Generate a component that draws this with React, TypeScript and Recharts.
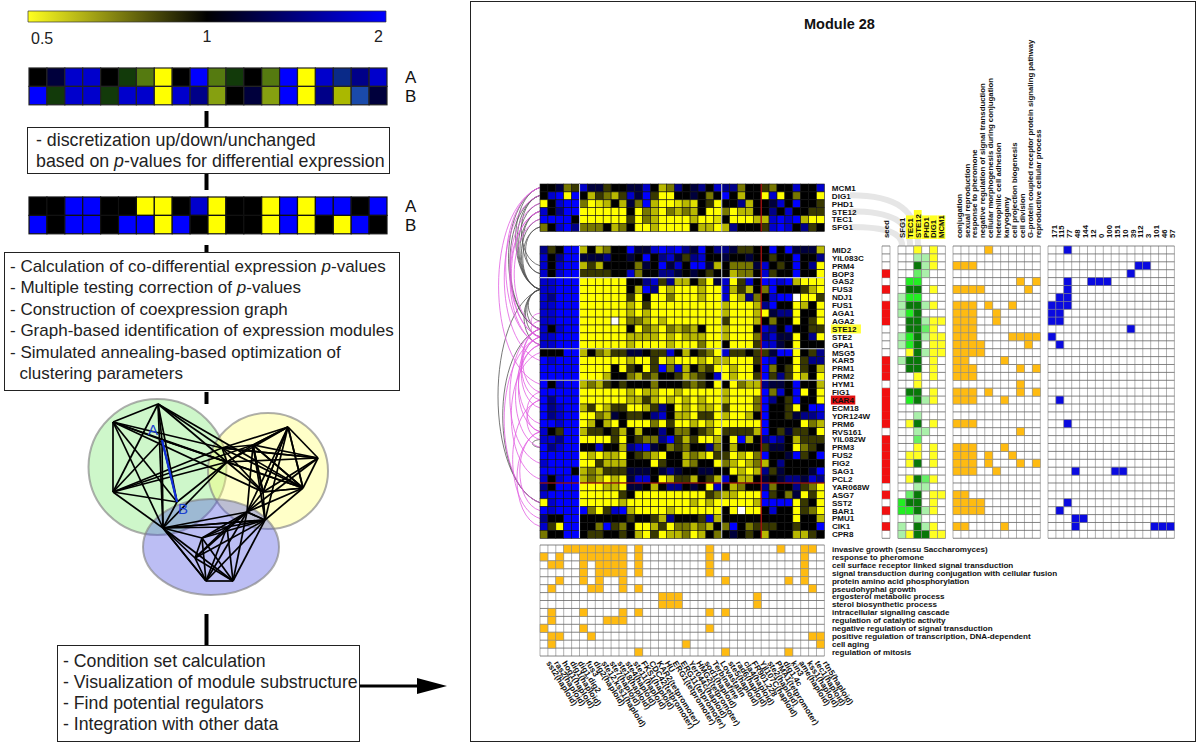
import React from 'react';
import { ScatterChart, Scatter, XAxis, YAxis, CartesianGrid, ReferenceLine, BarChart, Bar } from 'recharts';

const FONT = "'Liberation Sans', Arial, sans-serif";

// ---------- palettes
const HEAT_COLORS: Record<string, string> = {
  B: '#0000ff', b: '#0000cc', n: '#000088', k: '#00003c', '0': '#000000', '1': '#383800', '2': '#777700', '3': '#b8b800', '4': '#e0e000',
  Y: '#ffff00', W: '#ffffff', g: '#123a0a', h: '#557a10', i: '#86a010', j: '#aab800', c: '#1a4aaa', m: '#0a2a88',
};
const REG_COLORS: Record<string, string> = { Y: '#ffff22', G: '#22ee22', g: '#aaf0aa', D: '#087808', M: '#66ee66' };
const ORANGE = { '#': '#ffbb11' };
const BLUE = { '#': '#0a0ae0' };
const RED = { '#': '#f01010' };

// ---------- left strips
const STRIP_LABELS = ['A', 'B'];
const stripRaw = ['0kbb0ghY0Bhg0hBYbmnb', 'Bgbbgbb' + 'Ybni0kiBYnjck'];
const stripDiscrete = ['00BB00YY0bY00YBYBB0B', 'B0BB0BBYB0Y00YBY0YB0'];

// ---------- module 28 heat map
const topGenes = ['MCM1', 'DIG1', 'PHD1', 'STE12', 'TEC1', 'SFG1'];
const topRows = [
  '00k21|bkk100kkb032n0kn0b|nn200|1200b00b',
  '0bBYB|031231bkB1YY00k020|B0300|YbY0200Y',
  'Y0bBB|2Y4303k2B3YY43401Y|00n30|0kb0B001',
  'b0nBB|YYYYYY0Y23Y23230YY|2Y330|0n0b0011',
  'BBBB0|YYYYYY1Y23YYYY3YY4|0YYY3|3bBbB3YY',
  '20bBn|2220320YY3YYYY033Y|3n000|1bBb0n10',
];
const genes = ['MID2', 'YIL083C', 'PRM4', 'BOP3', 'GAS2', 'FUS3', 'NDJ1', 'FUS1', 'AGA1', 'AGA2', 'STE12', 'STE2', 'GPA1', 'MSG5', 'KAR5', 'PRM1', 'PRM2', 'HYM1', 'FIG1', 'KAR4', 'ECM18', 'YDR124W', 'PRM6', 'RVS161', 'YIL082W', 'PRM3', 'FUS2', 'FIG2', 'SAG1', 'PCL2', 'YAR068W', 'ASG7', 'SST2', 'BAR1', 'PMU1', 'CIK1', 'CPR8'];
const mainRows = [
  'n10BB|303200BkkbBbBnkB0n|nk110|0B0Bkkk3',
  'b0nBB|kkkn00k0B0nbk1nb00|k00k0|0100B00n',
  'b0bBB|31300002k0Bkb0BBk3|0222k|b010B0nY',
  'b0bBB|111100b200nnk0k010|03220|b100B00Y',
  'bbBBB|YYYYYY00nb1n3302Yk|bY1b0|BBbB3YYY',
  'bbBBB|YYYYYY03BnY3YYY3YY|b3130|2B00013Y',
  'bnBBB|YYYYYY1Y0YY2YYY3YY|bY3n2|0bBBWYY1',
  'bbBBB|YYYYYY3Y1YYYYYYYYY|3YYY3|nB00Y30Y',
  'bbBBB|YYYYYY3Y3YYYYYYYYY|3YYY3|YknnY00Y',
  'bbBBB|YYYYWY223Y3YYYYYYY|1YYY3|0200Y01Y',
  'b0bBB|YYYYYY0Y23Y23230YY|3YYY0|bn0b0011',
  'bbBBB|YYYYYY3333Y3Y333YY|3YYY2|nbkkY0nY',
  'bbBBB|YYYYYY3YYYY3YYY2YY|0YYY1|bbk0Y000',
  '000BB|302311kk011b03012Y|b1101|1kBBY01n',
  'BbBBB|YYYYYY3YY1Y3YYY3Y3|3YYY1|Bb00Y1nn',
  'BBBBB|YYYY0Y10Y1B2b3021Y|Y3YY0|B201Y103',
  'BBBBB|YYY30023120013210b|Y3YY1|B1n1Y30Y',
  'B0bBB|32310100020001210Y|0Y233|nkk0B003',
  'BBBBB|YYYYYY3Y33YY3YYYYY|3YYYY|B2b0BY0Y',
  'BnBBB|YYYYYY3313Y3Y3Y3YY|3YYY2|Bn01B00Y',
  'BnbBB|31Y311YY31n0Y3Y33Y|1YYY2|B001Y0BB',
  'BnbBB|YY23k0110nb033Y11Y|3YY30|B001knnb',
  'BBbBB|Y303Y0YYY2Y1YY3Y3Y|YYYYY|B0000Y23',
  'b01BB|3110130300n022012Y|11113|B01k110Y',
  'bbnBB|YYYY1Y0122nB131YY3|0YB30|nbn03111',
  'BnbBB|00b003nbBk021200n2|03000|1kk0Y210',
  'BBBBB|Y3Y33Y0123Y00323Y1|1Y3Y2|B00kB10B',
  'bBBBB|YY1333000Y1003200Y|23Y32|30n00000',
  'BBBB0|323111kkk0knk00kk0|0Y3Y3|n1k000kB',
  'b0bBB|323Y3Ykbb0Y3113013|b0330|k0knnkbn',
  'n0BBB|YYY33Ykk030nn0k0Yb|03200|n200n12Y',
  'bBBBB|YYYYY10YYYYYYYYY12|33YYY|B102kY1Y',
  'YbBBB|YYYYY3YYYYYYYY3Y3Y|YYYY3|BBBBY10Y',
  'BbBBB|B2Y1bB3YYYY3YYYYYY|0YWYY|0b00Y12Y',
  'n00BB|00000010013n0001b3|00000|0000Y003',
  'b1YBB|002B120YY31Y223230|2B021|1100100B',
  '200BB|01100103Y1Y332Y302|0k010|30003310',
];

// ---------- annotation panels
const seedGenes = ['BOP3', 'FUS3', 'FUS1', 'AGA1', 'AGA2', 'KAR5', 'PRM1', 'PRM2', 'FIG1', 'KAR4', 'ECM18', 'YDR124W', 'PRM6', 'YIL082W', 'PRM3', 'FUS2', 'FIG2', 'SAG1', 'PCL2', 'ASG7', 'BAR1', 'CIK1'];
const regulators = ['SFG1', 'TEC1', 'STE12', 'PHD1', 'DIG1', 'MCM1'];
const regulatorRows = ['..Y.Y.', '..ggY.', '..DgY.', '..Mg..', '.GG...', '.DD.Y.', 'gGG...', 'gDDgY.', 'gGD...', '.DDgYY', '.DDMY.', 'gGDgYY', 'gGD.YY', '.YDgYY', 'gDD.Y.', '.DD.Y.', '..Y.Y.', '..Y...', '.DD.Y.', '.GDgY.', '......', '..g...', '.YD.Y.', '..gg..', '..M...', '..Y.Y.', '.YY.Y.', '.YD.Y.', '......', '.YDMY.', '..gg..', '.MD.YY', 'GDD.Y.', 'GGDgY.', '..g...', 'g.DgY.', 'gYDDYY'];
const goTerms = ['conjugation', 'sexual reproduction', 'response to pheromone', 'negative regulation of signal transduction', 'cellular morphogenesis during conjugation', 'heterophilic cell adhesion', 'karyogamy', 'cell projection biogenesis', 'cell division', 'G-protein coupled receptor protein signaling pathway', 'reproductive cellular process'];
const goRows = ['....#......', '...........', '###........', '...........', '........#.#', '####.....#.', '...........', '###.#..#...', '###..#.....', '###..#.....', '###........', '###....####', '####.....#.', '####.......', '##....#....', '###.....#.#', '###........', '........#..', '###.#...#.#', '###...#....', '...........', '...........', '###........', '........#..', '...........', '###...#....', '###.#..#...', '###.#...#.#', '###..#.....', '...........', '...........', '##.........', '####.......', '####.......', '...........', '##....#....', '...........'];
const clusterIds = ['171', '115', '77', '48', '144', '12', '0', '100', '151', '10', '39', '112', '3', '101', '46', '57'];
const clusterHits: Record<string, number[]> = { MID2: [2], PRM4: [11, 12], BOP3: [10], GAS2: [2, 5, 6, 7], FUS3: [2], NDJ1: [1, 2], FUS1: [0, 1, 2], AGA1: [0, 1], AGA2: [0, 1], STE12: [10], STE2: [0], GPA1: [1], KAR4: [1], PRM6: [2], SAG1: [3, 8, 9], SST2: [2], BAR1: [1], PMU1: [3, 4], CIK1: [3, 13, 14, 15] };
const bottomTerms = ['invasive growth (sensu Saccharomyces)', 'response to pheromone', 'cell surface receptor linked signal transduction', 'signal transduction during conjugation with cellular fusion', 'protein amino acid phosphorylation', 'pseudohyphal growth', 'ergosterol metabolic process', 'sterol biosynthetic process', 'intracellular signaling cascade', 'regulation of catalytic activity', 'negative regulation of signal transduction', 'positive regulation of transcription, DNA-dependent', 'cell aging', 'regulation of mitosis'];
const bottomHits = [
  [3, 4, 5, 6, 7, 8, 9, 10, 12, 21, 30, 33, 34],
  [0, 2, 5, 6, 7, 8, 9, 10, 12, 21, 23, 33],
  [1, 2, 5, 7, 8, 9, 10, 12, 21, 33],
  [5, 7, 8, 9, 10, 12, 21, 33],
  [2, 5, 7, 10, 23, 31, 33],
  [1, 6, 7, 10, 12, 34],
  [15, 16, 17, 27],
  [15, 16, 17, 27],
  [1, 5, 10, 12, 21, 23],
  [1, 8, 9, 10],
  [0, 5, 21],
  [1, 2, 6, 34, 35],
  [1, 18, 35],
  [12, 23, 31],
];
const conditions = ['sst2(haploid)', 'ras2(haploid)', 'hog1(haploid)', 'dig1(haploid)', 'dig1,dig2', 'fus3', 'dig2(haploid)', 'ste12,kss1(haploid)', 'ste7(haploid)', 'ste18(haploid)', 'ste4(haploid)', 'ste11(haploid)', 'FKS1(haploid)', 'CDC42(tetpromoter)', 'KAR2(tetpromoter)', 'HU', 'ERG1(tetpromoter)', 'ERG11(tetpromoter)', 'Yer044c(haploid)', 'HMG2(tetpromoter)', 'sod1(haploid)', 'Terbinafine', 'Lovastatin', 'ste5(haploid)', 'rad6(haploid)', 'cla4(haploid)', 'FR901,228', 'Yjl107C(haploid)', 'ste2(haploid)', 'PMA1(tetpromoter)', 'dig1,4c', 'kin3', 'ame(haploid)', 'kss1(haploid)', 'tec1(haploid)', 'rtn5(haploid)'];

// ---------- coexpression graph
const graphNodes: Record<string, [number, number]> = {
  g1: [158, 404], g2: [113, 422], A: [162, 440], g4: [113, 492], B: [177, 502], g6: [163, 528], g7: [227, 462], g8: [222, 448],
  y1: [288, 427], y2: [318, 458], y3: [253, 445], y4: [303, 488], y5: [263, 492], y6: [247, 512], y7: [265, 520],
  b1: [227, 527], b3: [202, 538], b4: [195, 558], b5: [206, 581], b6: [233, 581],
};
const cliques = [
  ['g1', 'g2', 'A', 'g4', 'B', 'g6', 'g7'],
  ['g8', 'y3', 'y1', 'y2', 'y4', 'y5', 'g7'],
  ['y3', 'y1', 'y4', 'y6', 'y5'],
  ['b1', 'y6', 'y7', 'b3', 'b4', 'b5', 'b6', 'g6'],
];
const extraEdges = [['g1', 'g8'], ['g2', 'g8'], ['g4', 'g8'], ['g2', 'y5'], ['A', 'y4'], ['g1', 'y4'], ['g4', 'y3'], ['g8', 'y2'], ['y6', 'y7'], ['y7', 'y4'], ['y7', 'y5'], ['y7', 'y3'], ['y6', 'y2'], ['y7', 'y1'], ['g6', 'b5'], ['g6', 'y7']];
const blobs = [
  { x: 157.5, y: 467, rx: 69, ry: 68, fill: 'rgba(125,235,115,0.38)' },
  { x: 268, y: 471, rx: 60, ry: 58, fill: 'rgba(255,255,110,0.38)' },
  { x: 211, y: 547, rx: 68, ry: 48, fill: 'rgba(80,85,225,0.38)' },
];

// ---------- arcs left of the heat map (gene pairs; t: = upper block)
const greyArcs = [['t:MCM1', 'FUS3'], ['t:DIG1', 'FUS3'], ['t:PHD1', 'FUS3'], ['t:STE12', 'FUS3'], ['t:TEC1', 'FUS3'], ['t:SFG1', 'FUS3'], ['t:DIG1', 'PRM4'], ['t:STE12', 'BOP3'], ['t:SFG1', 'BOP3'], ['FUS3', 'AGA2'], ['FUS3', 'STE12'], ['FUS3', 'STE2'], ['FUS3', 'GPA1'], ['FUS3', 'SST2'], ['STE12', 'SST2'], ['YIL082W', 'PRM3'], ['t:MCM1', 'STE12'], ['t:DIG1', 'STE12']];
const pinkArcs = [['t:MCM1', 'GPA1'], ['t:MCM1', 'HYM1'], ['t:TEC1', 'STE12'], ['t:PHD1', 'STE2'], ['t:STE12', 'STE2'], ['t:STE12', 'GPA1'], ['t:DIG1', 'KAR5'], ['STE12', 'FIG1'], ['STE12', 'KAR4'], ['STE2', 'ECM18'], ['STE2', 'PRM6'], ['GPA1', 'RVS161'], ['GPA1', 'PRM3'], ['AGA1', 'STE12'], ['AGA2', 'STE2'], ['MSG5', 'PCL2'], ['FIG1', 'RVS161'], ['KAR4', 'YIL082W'], ['RVS161', 'BAR1'], ['RVS161', 'CIK1'], ['STE12', 'FIG2'], ['STE2', 'SST2'], ['KAR4', 'PMU1']];
const bandRows = [['DIG1', 'STE12'], ['STE12', 'TEC1'], ['SFG1', 'SFG1']];

// ---------- text boxes
const topBoxLines = [['- discretization up/down/unchanged'], ['based on ', 'p', '-values for differential expression']];
const midBoxLines = [['- Calculation of co-differential expression ', 'p', '-values'], ['- Multiple testing correction of ', 'p', '-values'], ['- Construction of coexpression graph'], ['- Graph-based identification of expression modules'], ['- Simulated annealing-based optimization of'], ['  clustering parameters']];
const lowBoxLines = [['- Condition set calculation'], ['- Visualization of module substructure'], ['- Find potential regulators'], ['- Integration with other data']];

// ---------- geometry constants
const CELL = 7.9;
const HEAT_LEFT = 540;
const TOP_TOP = 183.5;
const MAIN_TOP = 246;

const clean = (s: string) => s.replace(/\|/g, '');
const arcY = (name: string) => name.startsWith('t:')
  ? TOP_TOP + CELL * (topGenes.indexOf(name.slice(2)) + 0.5)
  : MAIN_TOP + CELL * (genes.indexOf(name) + 0.5);

const RowTick = (highlight: Record<string, string>, labels: string[], fs = 8.1, dx = 7.5, weight = 'bold') => (p: any) => {
  const label = labels[Math.floor(p.payload.value)];
  const bg = highlight[label];
  return (
    <g>
      {bg && <rect x={p.x + dx - 1} y={p.y - 4.5} width={label.length * 5.6 + 2} height={9} fill={bg} />}
      <text x={p.x + dx} y={p.y + fs * 0.36} fontSize={fs} fontWeight={weight} fontFamily={FONT} fill="#111">{label}</text>
    </g>
  );
};
const UpTick = (labels: string[], highlight: string[] = [], shift = 4.6) => (p: any) => {
  const label = labels[Math.floor(p.payload.value)];
  const y = p.y - 8;
  return (
    <g>
      {highlight.includes(label) && <rect x={p.x - 3.9} y={y - label.length * 5.4 - 1} width={7.8} height={label.length * 5.4 + 2} fill="#ffff22" />}
      <text x={p.x + shift} y={y} transform={`rotate(-90 ${p.x + shift} ${y})`} fontSize={7.8} fontWeight="bold" fontFamily={FONT} fill="#111">{label}</text>
    </g>
  );
};
const SlantTick = (labels: string[]) => (p: any) => {
  const label = labels[Math.floor(p.payload.value)];
  const x = p.x + 2;
  const y = p.y + 7;
  return <text x={x} y={y} transform={`rotate(58 ${x} ${y})`} fontSize={8.2} fontWeight="bold" fontFamily={FONT} fill="#111">{label}</text>;
};
const half = (n: number) => Array.from({ length: n }, (_, i) => i + 0.5);
const whole = (n: number) => Array.from({ length: n + 1 }, (_, i) => i);

function Heat(props: any) {
  const { left, top, cellW, cellH = cellW, rows, palette, cellStroke = '#111', cellStrokeW = 0.6, rowTick, rowLabelW = 0, colTick, colLabelH = 0, colSide = 'top', grid = false, vLines = [], hLines = [] } = props;
  const nRows = rows.length;
  const nCols = rows[0].length;
  const points = rows.flatMap((r: string, ri: number) => r.split('').flatMap((c: string, ci: number) => (palette[c] ? [{ col: ci + 0.5, row: ri + 0.5, c }] : [])));
  const shape = (p: any) => (
    <rect x={p.cx - cellW / 2} y={p.cy - cellH / 2} width={cellW} height={cellH} fill={palette[p.payload.c]} stroke={cellStroke} strokeWidth={cellStrokeW} />
  );
  const w = nCols * cellW + rowLabelW;
  const h = nRows * cellH + colLabelH;
  const plotW = nCols * cellW;
  const plotH = nRows * cellH;
  const vShape = (p: any) => <line x1={p.cx} x2={p.cx} y1={p.cy - plotH / 2} y2={p.cy + plotH / 2} stroke={p.payload.color} strokeWidth={1.1} />;
  const hShape = (p: any) => <line x1={p.cx - plotW / 2} x2={p.cx + plotW / 2} y1={p.cy} y2={p.cy} stroke={p.payload.color} strokeWidth={1.1} />;
  return (
    <div style={{ position: 'absolute', left, top: top - (colSide === 'top' ? colLabelH : 0) }}>
      <ScatterChart width={w} height={h} margin={{ top: 0, right: 0, bottom: 0, left: 0 }}>
        {grid && <CartesianGrid horizontal={false} vertical verticalValues={whole(nCols)} stroke="#a8a8a8" strokeWidth={0.9} />}
        {grid && <CartesianGrid vertical={false} horizontal horizontalValues={whole(nRows)} stroke="#666" strokeWidth={0.8} />}
        <XAxis type="number" dataKey="col" domain={[0, nCols]} ticks={half(nCols)} interval={0} hide={!colTick} orientation={colSide} height={colLabelH} tick={colTick} tickLine={false} axisLine={false} tickSize={0} tickMargin={0} />
        <YAxis type="number" dataKey="row" domain={[0, nRows]} reversed ticks={half(nRows)} interval={0} hide={!rowTick} orientation="right" width={rowLabelW} tick={rowTick} tickLine={false} axisLine={false} tickSize={0} tickMargin={0} />
        <Scatter data={points} shape={shape} isAnimationActive={false} />
        {hLines.length > 0 && <Scatter data={hLines.map((l: any) => ({ col: nCols / 2, row: l.at, color: l.color }))} shape={hShape} isAnimationActive={false} />}
        {vLines.length > 0 && <Scatter data={vLines.map((l: any) => ({ col: l.at, row: nRows / 2, color: l.color }))} shape={vShape} isAnimationActive={false} />}
      </ScatterChart>
    </div>
  );
}

const GREYLINE = '#c4c8d0';
const REDLINE = '#c81010';
const clusterRows = genes.map((g) => clusterIds.map((_, i) => ((clusterHits[g] || []).includes(i) ? '#' : '.')).join(''));
const seedRows = genes.map((g) => (seedGenes.includes(g) ? '#' : '.'));
const bottomRows = bottomHits.map((cols) => conditions.map((_, i) => (cols.includes(i) ? '#' : '.')).join(''));

function ColorBar() {
  const data = [{ name: 'ratio', range: [-1, 1] }];
  const tick = (p: any) => {
    const v = p.payload.value;
    const label = v === -1 ? '0.5' : v === 0 ? '1' : '2';
    const x = v === -1 ? p.x + 3 : v === 1 ? p.x - 3 : p.x;
    return <text x={x} y={v === -1 ? 32.5 : 30.5} textAnchor={v === -1 ? 'start' : v === 1 ? 'end' : 'middle'} fontSize={16} fontFamily={FONT} fill="#222">{label}</text>;
  };
  return (
    <div style={{ position: 'absolute', left: 28, top: 11 }}>
      <BarChart width={358} height={50} data={data} layout="vertical" margin={{ top: 0, right: 0, bottom: 0, left: 0 }} barCategoryGap={0}>
        <defs>
          <linearGradient id="ratioGrad" x1="0" x2="1" y1="0" y2="0">
            <stop offset="0" stopColor="#ffff20" />
            <stop offset="0.5" stopColor="#000000" />
            <stop offset="1" stopColor="#0000ff" />
          </linearGradient>
        </defs>
        <XAxis type="number" domain={[-1, 1]} ticks={[-1, 0, 1]} interval={0} tick={tick} height={39} tickLine={false} axisLine={false} />
        <YAxis type="category" dataKey="name" hide />
        <Bar dataKey="range" fill="url(#ratioGrad)" stroke="#333" strokeWidth={0.7} isAnimationActive={false} />
      </BarChart>
    </div>
  );
}

function BackLayer() {
  const ellipse = (p: any) => <ellipse cx={p.cx} cy={p.cy} rx={p.payload.rx} ry={p.payload.ry} fill={p.payload.fill} stroke="rgba(130,130,130,0.65)" strokeWidth={2} />;
  const arcData = [
    ...greyArcs.map((a) => ({ a, color: '#555555' })),
    ...pinkArcs.map((a) => ({ a, color: '#e25ee2' })),
  ].map(({ a, color }) => ({ x: HEAT_LEFT, y: arcY(a[0]), span: arcY(a[1]) - arcY(a[0]), color }));
  const arcShape = (p: any) => {
    const s = p.payload.span;
    const bow = Math.min(s * 0.24 + 8, 56);
    return <path d={`M${p.cx} ${p.cy} C${p.cx - bow} ${p.cy + s * 0.1} ${p.cx - bow} ${p.cy + s * 0.9} ${p.cx} ${p.cy + s}`} fill="none" stroke={p.payload.color} strokeWidth={0.8} />;
  };
  const bandData = bandRows.map(([g, col]) => ({ x: 850, y: TOP_TOP + CELL * (topGenes.indexOf(g) + 0.5), toX: 898.3 + CELL * (regulators.indexOf(col) + 0.5), toY: 246 }));
  const bandShape = (p: any) => {
    const dx = p.payload.toX - p.payload.x;
    const dy = p.payload.toY - p.payload.y;
    return <path d={`M${p.cx} ${p.cy} C${p.cx + dx * 0.7} ${p.cy} ${p.cx + dx} ${p.cy + dy * 0.3} ${p.cx + dx} ${p.cy + dy}`} fill="none" stroke="#e6e6e6" strokeWidth={6} />;
  };
  return (
    <div style={{ position: 'absolute', left: 0, top: 0 }}>
      <ScatterChart width={1200} height={744} margin={{ top: 0, right: 0, bottom: 0, left: 0 }}>
        <XAxis type="number" dataKey="x" domain={[0, 1200]} hide />
        <YAxis type="number" dataKey="y" domain={[0, 744]} reversed hide />
        <Scatter data={blobs} shape={ellipse} isAnimationActive={false} />
        <Scatter data={bandData} shape={bandShape} isAnimationActive={false} />
        <Scatter data={arcData} shape={arcShape} isAnimationActive={false} />
      </ScatterChart>
    </div>
  );
}

function LineLayer() {
  const edges = [
    ...cliques.flatMap((c) => c.flatMap((a, i) => c.slice(i + 1).map((b) => [a, b]))),
    ...extraEdges,
  ];
  const seg = (a: [number, number], b: [number, number]) => [{ x: a[0], y: a[1] }, { x: b[0], y: b[1] }] as any;
  const arrowShape = (p: any) => <path d={`M${p.cx} ${p.cy - 8} L${p.cx + 30} ${p.cy} L${p.cx} ${p.cy + 8} Z`} fill="#000" />;
  return (
    <div style={{ position: 'absolute', left: 0, top: 0 }}>
      <ScatterChart width={1200} height={744} margin={{ top: 0, right: 0, bottom: 0, left: 0 }}>
        <XAxis type="number" dataKey="x" domain={[0, 1200]} hide />
        <YAxis type="number" dataKey="y" domain={[0, 744]} reversed hide />
        {edges.map(([a, b], i) => <ReferenceLine key={i} segment={seg(graphNodes[a], graphNodes[b])} stroke="#000" strokeWidth={1.7} />)}
        <ReferenceLine segment={seg(graphNodes.A, graphNodes.B)} stroke="#1030dd" strokeWidth={2.2} />
        <ReferenceLine segment={seg([206.5, 111], [206.5, 127])} stroke="#000" strokeWidth={4} />
        <ReferenceLine segment={seg([206.5, 174], [206.5, 190])} stroke="#000" strokeWidth={4} />
        <ReferenceLine segment={seg([206.5, 245], [206.5, 252])} stroke="#000" strokeWidth={4} />
        <ReferenceLine segment={seg([206.5, 392], [206.5, 404])} stroke="#000" strokeWidth={4} />
        <ReferenceLine segment={seg([206.5, 614], [206.5, 645])} stroke="#000" strokeWidth={4} />
        <ReferenceLine segment={seg([360, 686], [420, 686])} stroke="#000" strokeWidth={3} />
        <Scatter data={[{ x: 417, y: 686 }]} shape={arrowShape} isAnimationActive={false} />
      </ScatterChart>
    </div>
  );
}

function TextBox({ left, top, width, height, lines, lineH, fs, pad, first }: any) {
  return (
    <div style={{ position: 'absolute', left, top, width, height, boxSizing: 'border-box', border: '1.4px solid #222', background: '#fff', fontFamily: FONT, fontSize: fs, color: '#222', lineHeight: lineH + 'px', paddingLeft: pad, paddingTop: first, whiteSpace: 'pre' }}>
      {lines.map((l: string[], i: number) => (
        <div key={i}>{l.map((t, j) => (t === 'p' ? <i key={j}>p</i> : <span key={j}>{t}</span>))}</div>
      ))}
    </div>
  );
}

const Label = ({ x, y, children, fs = 16, color = '#222', weight = 'normal' }: any) => (
  <div style={{ position: 'absolute', left: x, top: y, fontFamily: FONT, fontSize: fs, color, fontWeight: weight, lineHeight: '1', whiteSpace: 'pre' }}>{children}</div>
);

export default function App() {
  const heatV = [{ at: 5, color: GREYLINE }, { at: 23, color: GREYLINE }, { at: 28, color: REDLINE }];
  const heatH = [{ at: 4, color: GREYLINE }, { at: 13, color: GREYLINE }, { at: 17, color: GREYLINE }, { at: 30, color: REDLINE }];
  return (
    <div style={{ position: 'absolute', left: 0, top: 0, width: 1200, height: 744, background: '#fff', overflow: 'hidden' }}>
      <style>{'.recharts-surface{overflow:visible}'}</style>
      <div style={{ position: 'absolute', left: 470, top: 1, width: 726, height: 741, boxSizing: 'border-box', border: '1.5px solid #222' }} />
      <BackLayer />
      <LineLayer />
      <ColorBar />
      <Heat left={28.5} top={67.5} cellW={17.9} cellH={18.4} rows={stripRaw} palette={HEAT_COLORS} cellStroke="#222" cellStrokeW={1.2} rowTick={RowTick({}, STRIP_LABELS, 17, 18, 'normal')} rowLabelW={40} />
      <Heat left={29} top={197} cellW={17.9} cellH={18.4} rows={stripDiscrete} palette={HEAT_COLORS} cellStroke="#111" cellStrokeW={1.2} rowTick={RowTick({}, STRIP_LABELS, 17, 18, 'normal')} rowLabelW={40} />
      <TextBox left={27} top={127} width={363} height={47} lines={topBoxLines} lineH={21} fs={17.8} pad={8} first={2} />
      <TextBox left={4} top={252} width={396} height={139} lines={midBoxLines} lineH={21.4} fs={17} pad={5} first={3} />
      <TextBox left={57} top={645} width={303} height={97} lines={lowBoxLines} lineH={21} fs={17.7} pad={5} first={5} />
      <Label x={148} y={422} fs={15} color="#1a40d0">A</Label>
      <Label x={178} y={501} fs={15} color="#1a40d0">B</Label>

      <Label x={804} y={17} fs={14.5} weight="bold" color="#111">Module 28</Label>

      <Heat left={HEAT_LEFT} top={TOP_TOP} cellW={CELL} rows={topRows.map(clean)} palette={HEAT_COLORS} rowTick={RowTick({}, topGenes)} rowLabelW={60} vLines={heatV} />
      <Heat left={HEAT_LEFT} top={MAIN_TOP} cellW={CELL} rows={mainRows.map(clean)} palette={HEAT_COLORS} rowTick={RowTick({ STE12: '#ffff33', KAR4: '#e01010' }, genes)} rowLabelW={60} vLines={heatV} hLines={heatH} />

      <Heat left={882.3} top={MAIN_TOP} cellW={8} cellH={CELL} rows={seedRows} palette={RED} cellStroke="none" cellStrokeW={0} grid colTick={UpTick(['seed'], [], 2.9)} colLabelH={30} />
      <Heat left={898.3} top={MAIN_TOP} cellW={CELL} rows={regulatorRows} palette={REG_COLORS} cellStroke="#8a8a8a" cellStrokeW={0.6} grid colTick={UpTick(regulators, ['TEC1', 'STE12', 'PHD1', 'DIG1', 'MCM1'], 2.9)} colLabelH={40} />
      <Heat left={953.3} top={MAIN_TOP} cellW={7.94} cellH={CELL} rows={goRows} palette={ORANGE} cellStroke="#8a8a8a" cellStrokeW={0.5} grid colTick={UpTick(goTerms)} colLabelH={225} />
      <Heat left={1048} top={MAIN_TOP} cellW={CELL} rows={clusterRows} palette={BLUE} cellStroke="#8a8a8a" cellStrokeW={0.5} grid colTick={UpTick(clusterIds)} colLabelH={30} />

      <Heat left={539.5} top={545.3} cellW={7.9} cellH={7.93} rows={bottomRows} palette={ORANGE} cellStroke="#8a8a8a" cellStrokeW={0.5} grid rowTick={RowTick({}, bottomTerms)} rowLabelW={290} colTick={SlantTick(conditions)} colLabelH={90} colSide="bottom" />
    </div>
  );
}
